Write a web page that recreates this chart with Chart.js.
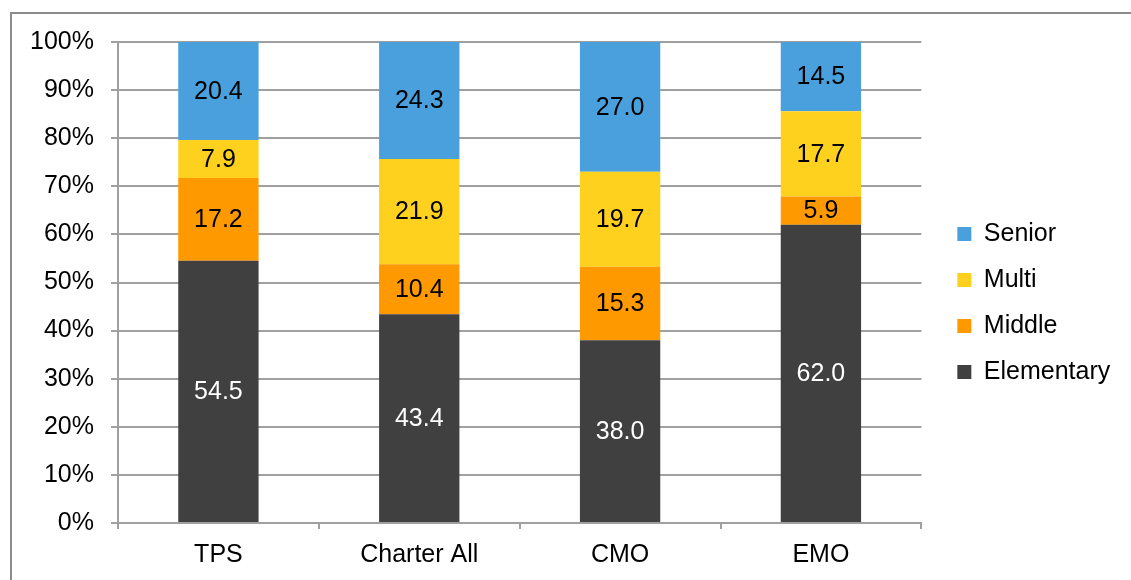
<!DOCTYPE html>
<html>
<head>
<meta charset="utf-8">
<script src="https://cdn.jsdelivr.net/npm/chart.js@4/dist/chart.umd.min.js"></script>
<style>
  html, body { margin: 0; padding: 0; background: #fff; overflow: hidden; }
  #frame { position: absolute; left: 10px; top: 12px; width: 1300px; height: 700px; border: 2px solid #8c8c8c; }
  #wrap { position: absolute; left: 0; top: 0; width: 1131px; height: 580px; }
</style>
</head>
<body>
<div id="frame"></div>
<div id="wrap"><canvas id="chart"></canvas></div>
<script>
const categories = ['TPS', 'Charter All', 'CMO', 'EMO'];
const elementary = [54.5, 43.4, 38.0, 62.0];
const middle = [17.2, 10.4, 15.3, 5.9];
const multi = [7.9, 21.9, 19.7, 17.7];
const senior = [20.4, 24.3, 27.0, 14.5];
const yTicks = [0, 10, 20, 30, 40, 50, 60, 70, 80, 90, 100];

const FONT = "'Liberation Sans', Arial, sans-serif";

// writes each segment's value in the middle of its bar
const barValues = {
  id: 'barValues',
  afterDatasetsDraw(chart) {
    const ctx = chart.ctx;
    ctx.save();
    ctx.font = '25px ' + FONT;
    ctx.textAlign = 'center';
    ctx.textBaseline = 'middle';
    chart.data.datasets.forEach((ds, i) => {
      chart.getDatasetMeta(i).data.forEach((bar, j) => {
        const p = bar.getProps(['x', 'y', 'base'], true);
        ctx.fillStyle = ds.labelColor;
        ctx.fillText(ds.data[j].toFixed(1), p.x, (p.y + p.base) / 2 + 1);
      });
    });
    ctx.restore();
  }
};

new Chart(document.getElementById('chart'), {
  type: 'bar',
  data: {
    labels: categories,
    datasets: [
      { label: 'Elementary', data: elementary, backgroundColor: '#404040', labelColor: '#ffffff' },
      { label: 'Middle', data: middle, backgroundColor: '#ff9900', labelColor: '#000000' },
      { label: 'Multi', data: multi, backgroundColor: '#ffd11f', labelColor: '#000000' },
      { label: 'Senior', data: senior, backgroundColor: '#4aa0dc', labelColor: '#000000' }
    ]
  },
  options: {
    responsive: true,
    maintainAspectRatio: false,
    animation: false,
    datasets: { bar: { barPercentage: 0.4, categoryPercentage: 1, borderWidth: 0 } },
    layout: { padding: { left: 18, top: 42, right: 11, bottom: 16 } },
    plugins: {
      tooltip: { enabled: false },
      legend: {
        position: 'right',
        reverse: true,
        labels: {
          boxWidth: 14, boxHeight: 14, padding: 21,
          color: '#000', font: { family: FONT, size: 25 }
        }
      }
    },
    scales: {
      x: {
        stacked: true,
        border: { color: '#a0a0a0', width: 2 },
        grid: { offset: true, drawOnChartArea: false, drawTicks: true, tickLength: 6, color: '#a0a0a0', lineWidth: 2 },
        ticks: { color: '#000', font: { family: FONT, size: 25 }, padding: 11 },
        afterFit(scale) { scale.height = 41; }
      },
      y: {
        stacked: true,
        min: 0, max: 100,
        afterBuildTicks(scale) { scale.ticks = yTicks.map(v => ({ value: v })); },
        border: { color: '#a0a0a0', width: 2 },
        grid: { color: '#a0a0a0', lineWidth: 2, tickLength: 7 },
        ticks: { color: '#000', font: { family: FONT, size: 25 }, padding: 17, callback: v => v + '%' },
        afterFit(scale) { scale.width = 100; }
      },
      // empty spacer between the plot and the legend
      gap: {
        position: 'right',
        display: true,
        min: 0, max: 1,
        border: { display: false },
        grid: { display: false, drawTicks: false },
        ticks: { display: false },
        afterFit(scale) { scale.width = 15; }
      }
    }
  },
  plugins: [barValues]
});
</script>
</body>
</html>
